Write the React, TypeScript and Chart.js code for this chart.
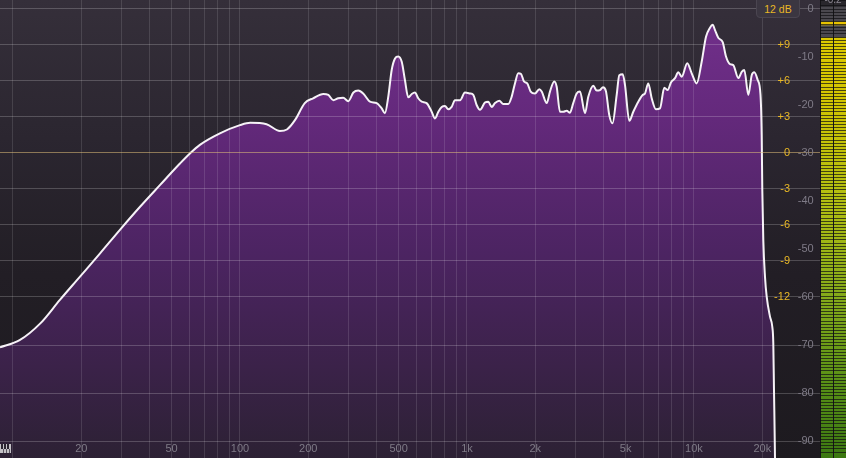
import React, { useEffect, useRef } from 'react';
import { Chart, registerables } from 'chart.js';

Chart.register(...registerables);

// ---- spectrum data (frequency in Hz, level in dB) ----
const FREQ_HZ = [
  8.77, 10.7, 13.2, 16.1, 19.7, 24.2, 29.6, 36.3, 44.4, 54.4, 60.2, 66.6, 81.6, 100, 111, 131, 150, 161, 175, 193,
  210, 233, 245, 258, 271, 285, 300, 316, 332, 349, 374, 400, 421, 435, 450, 466, 482, 498, 516, 533,
  551, 571, 590, 610, 632, 664, 699, 723, 748, 774, 800, 827, 856, 885, 932, 980, 1031, 1066, 1103, 1141,
  1200, 1241, 1285, 1329, 1388, 1445, 1520, 1573, 1627, 1683, 1729, 1783, 1843, 1908, 1993, 2082, 2134, 2245, 2321, 2424,
  2484, 2568, 2656, 2749, 2842, 2939, 3043, 3147, 3311, 3423, 3601, 3728, 3855, 3974, 4097, 4235, 4375, 4566, 4687, 4852,
  4966, 5188, 5403, 5684, 5943, 6083, 6290, 6512, 6801, 7083, 7399, 7658, 7918, 8249, 8528, 8828, 9343, 9770, 10278, 10812,
  11297, 11765, 12091, 12376, 12794, 13379, 13836, 14408, 14898, 15674, 16226, 16661, 17350, 17960, 18439, 19085, 19634, 19873, 19995, 20199,
  20550, 20907, 21618, 22128, 22353, 22513, 22742, 22800,
];
const LEVEL_DB = [
  -70.5, -69.0, -65.5, -60.6, -55.8, -50.9, -46.0, -41.2, -36.7, -32.2, -30.1, -28.3, -25.9, -24.2, -23.7, -24.0, -25.4, -25.1, -23.1, -19.6,
  -18.6, -17.7, -17.9, -19.0, -18.6, -18.5, -19.2, -17.4, -17.0, -17.6, -19.3, -19.6, -20.7, -21.7, -18.3, -12.7, -10.3, -9.9, -11.0, -14.8,
  -18.4, -17.7, -17.4, -18.6, -19.3, -19.6, -21.4, -22.8, -21.4, -20.4, -20.2, -20.9, -20.4, -19.0, -19.0, -17.4, -17.6, -17.9, -20.0, -21.0,
  -19.5, -19.3, -20.4, -19.6, -19.1, -19.8, -19.8, -18.3, -15.5, -13.4, -13.5, -15.1, -15.5, -17.2, -17.6, -16.7, -17.2, -19.6, -17.2, -15.1,
  -16.2, -21.4, -21.4, -21.2, -21.6, -19.6, -17.6, -17.2, -21.7, -18.3, -16.0, -17.0, -16.9, -16.3, -17.2, -22.1, -23.8, -17.9, -13.8, -13.6,
  -15.8, -23.3, -21.4, -19.3, -17.9, -17.6, -15.5, -18.6, -20.9, -20.7, -16.4, -16.9, -15.3, -14.4, -13.2, -14.1, -11.3, -13.4, -15.5, -11.0,
  -5.8, -3.9, -3.3, -4.4, -6.0, -6.9, -9.9, -11.5, -11.7, -14.4, -13.1, -12.7, -17.9, -13.8, -13.2, -14.8, -17.9, -26.3, -37.7, -48.1,
  -55.8, -59.9, -64.1, -66.2, -69.6, -79.4, -93.5, -100,
];

// ---- axes / ticks ----
const FREQ_GRID = [
  10, 20, 30, 40, 50, 60, 70, 80, 90,
  100, 200, 300, 400, 500, 600, 700, 800, 900,
  1000, 2000, 3000, 4000, 5000, 6000, 7000, 8000, 9000,
  10000, 20000,
];
const FREQ_LABELS: Record<number, string> = {
  20: '20', 50: '50', 100: '100', 200: '200', 500: '500',
  1000: '1k', 2000: '2k', 5000: '5k', 10000: '10k', 20000: '20k',
};
const SPEC_TICKS = [-90, -80, -70, -60, -50, -40, -30, -20, -10, 0];
const SPEC_GRID_ONLY = [-90, -80, -70];
const EQ_TICKS = [-12, -9, -6, -3, 0, 3, 6, 9, 12];
const EQ_LABELED = [-12, -9, -6, -3, 0, 3, 6, 9];

// ---- meter ----
const METER_CHANNELS = ['L', 'R'];
const METER_LEVEL_DB = [-6.0, -6.0];
const METER_PEAK_DB = [-3.0, -3.0];
const METER_READOUT = '-0.2';
const RANGE_LABEL = '12 dB';

// ---- scale ranges ----
const F_MIN = 8.77;
const F_MAX = 35900;
const SPEC_MIN = -93.54;
const SPEC_MAX = 1.875;
const EQ_MIN = -25.42;
const EQ_MAX = 12.75;
const METER_TOP = 0.4;
const SPEC_LABEL_AT_HZ = 33650;
const EQ_LABEL_AT_HZ = 26480;

const FONT = { family: "'Liberation Sans', Arial, sans-serif", size: 11 };
const GRAY = '#7f7b87';
const YELLOW = '#e9b825';

function vGrad(chart: any, stops: [number, string][]) {
  const { ctx, chartArea } = chart;
  if (!chartArea) return stops[0][1];
  const g = ctx.createLinearGradient(0, chartArea.top, 0, chartArea.bottom);
  stops.forEach(([o, c]) => g.addColorStop(o, c));
  return g;
}

function mainConfig(): any {
  return {
    type: 'line',
    data: {
      datasets: [
        {
          data: FREQ_HZ.map((f, i) => ({ x: f, y: LEVEL_DB[i] })),
          borderColor: '#f6f2f7',
          borderWidth: 2,
          pointRadius: 0,
          fill: 'start',
          cubicInterpolationMode: 'monotone',
          tension: 0.4,
          backgroundColor: (c: any) =>
            vGrad(c.chart, [
              [0, '#74318e'],
              [0.25, '#64297c'],
              [0.55, '#4c2462'],
              [0.8, '#3b2249'],
              [1, '#2c2134'],
            ]),
        },
      ],
    },
    options: {
      animation: false,
      responsive: false,
      maintainAspectRatio: false,
      events: [],
      layout: { padding: 0 },
      plugins: { legend: { display: false }, tooltip: { enabled: false } },
      scales: {
        x: {
          type: 'logarithmic',
          min: F_MIN,
          max: F_MAX,
          position: { y: -90 },
          afterBuildTicks: (s: any) => {
            s.ticks = FREQ_GRID.map((v) => ({ value: v }));
          },
          ticks: {
            autoSkip: false,
            maxRotation: 0,
            padding: 1.5,
            color: GRAY,
            font: FONT,
            z: 2,
            callback: (v: any) => FREQ_LABELS[v as number] ?? '',
          },
          grid: { color: 'rgba(255,255,255,0.12)', drawTicks: false, z: 1 },
          border: { display: false },
        },
        y: {
          type: 'linear',
          min: SPEC_MIN,
          max: SPEC_MAX,
          position: { x: SPEC_LABEL_AT_HZ },
          afterBuildTicks: (s: any) => {
            s.ticks = SPEC_TICKS.map((v) => ({ value: v }));
          },
          ticks: {
            padding: -8,
            color: GRAY,
            font: FONT,
            z: 2,
            callback: (v: any) => String(v),
          },
          grid: {
            drawTicks: false,
            z: 1,
            color: (c: any) =>
              SPEC_GRID_ONLY.includes(c.tick && c.tick.value) ? 'rgba(255,255,255,0.2)' : 'rgba(0,0,0,0)',
          },
          border: { display: false },
        },
        yEq: {
          axis: 'y',
          type: 'linear',
          min: EQ_MIN,
          max: EQ_MAX,
          position: { x: EQ_LABEL_AT_HZ },
          afterBuildTicks: (s: any) => {
            s.ticks = EQ_TICKS.map((v) => ({ value: v }));
          },
          ticks: {
            padding: -8,
            color: YELLOW,
            font: FONT,
            z: 2,
            callback: (v: any) => (EQ_LABELED.includes(v) ? (v > 0 ? '+' + v : String(v)) : ''),
          },
          grid: {
            drawTicks: false,
            z: 1,
            color: (c: any) =>
              c.tick && c.tick.value === 0 ? 'rgba(222,190,120,0.55)' : 'rgba(255,255,255,0.2)',
          },
          border: { display: false },
        },
      },
    },
  };
}

function meterConfig(): any {
  return {
    type: 'bar',
    data: {
      labels: METER_CHANNELS,
      datasets: [
        {
          data: METER_CHANNELS.map(() => [SPEC_MIN, METER_TOP]),
          backgroundColor: '#4a484e',
          order: 3,
        },
        {
          data: METER_LEVEL_DB.map((v) => [SPEC_MIN, v]),
          backgroundColor: (c: any) =>
            vGrad(c.chart, [
              [0, '#e2cc00'],
              [0.2, '#d4c600'],
              [0.45, '#b0be12'],
              [0.65, '#84aa1a'],
              [0.85, '#568e16'],
              [1, '#3c7812'],
            ]),
          order: 2,
        },
        {
          data: METER_PEAK_DB.map((v) => [v - 0.32, v + 0.32]),
          backgroundColor: '#e8c200',
          order: 1,
        },
      ],
    },
    options: {
      animation: false,
      responsive: false,
      maintainAspectRatio: false,
      events: [],
      layout: { padding: 0 },
      datasets: { bar: { grouped: false, barPercentage: 1, categoryPercentage: 1, borderWidth: 0 } },
      plugins: { legend: { display: false }, tooltip: { enabled: false } },
      scales: {
        x: {
          grid: { offset: true, color: '#151417', z: 1, drawTicks: false },
          ticks: { display: false },
          border: { display: false },
        },
        y: {
          min: SPEC_MIN,
          max: SPEC_MAX,
          ticks: { display: false, stepSize: 0.65 },
          grid: { color: 'rgba(16,16,18,0.7)', z: 1, drawTicks: false },
          border: { display: false },
        },
      },
    },
  };
}

export default function App() {
  const mainRef = useRef<HTMLCanvasElement>(null);
  const meterRef = useRef<HTMLCanvasElement>(null);

  useEffect(() => {
    const c1 = new Chart(mainRef.current as HTMLCanvasElement, mainConfig());
    const c2 = new Chart(meterRef.current as HTMLCanvasElement, meterConfig());
    return () => {
      c1.destroy();
      c2.destroy();
    };
  }, []);

  const font = "'Liberation Sans', Arial, sans-serif";

  return (
    <div
      style={{
        position: 'fixed',
        left: 0,
        top: 0,
        width: 846,
        height: 458,
        overflow: 'hidden',
        background: '#1d1a1f',
        fontFamily: font,
      }}
    >
      <div
        style={{
          position: 'absolute',
          left: 0,
          top: 0,
          width: 820,
          height: 458,
          background: 'linear-gradient(to bottom, #352f3a 0%, #2b2630 30%, #221e25 60%, #1d1a1f 100%)',
        }}
      >
        <canvas ref={mainRef} width={820} height={458} style={{ display: 'block', width: 820, height: 458 }} />
      </div>
      <div style={{ position: 'absolute', left: 820, top: 0, width: 26, height: 458, background: '#29272c' }}>
        <canvas ref={meterRef} width={26} height={458} style={{ display: 'block', width: 26, height: 458 }} />
      </div>
      <div
        style={{
          position: 'absolute',
          left: 820,
          top: -7,
          width: 26,
          textAlign: 'center',
          fontSize: 10,
          lineHeight: '13px',
          color: '#8a8690',
        }}
      >
        {METER_READOUT}
      </div>
      <div
        style={{
          position: 'absolute',
          left: 756,
          top: -4,
          width: 44,
          height: 22,
          boxSizing: 'border-box',
          borderRadius: 4,
          background: '#3b3641',
          border: '1px solid #4a4550',
          color: YELLOW,
          fontSize: 10.5,
          lineHeight: '18px',
          paddingTop: 3,
          textAlign: 'center',
        }}
      >
        {RANGE_LABEL}
      </div>
      <div
        style={{
          position: 'absolute',
          left: 0,
          top: 444,
          width: 11,
          height: 9,
          background: '#c4c2c6',
        }}
      >
        {[1, 4, 7].map((x) => (
          <div key={x} style={{ position: 'absolute', left: x, top: 0, width: 2, height: 5, background: '#2a2530' }} />
        ))}
        {[3, 6, 9].map((x) => (
          <div key={'l' + x} style={{ position: 'absolute', left: x, top: 5, width: 1, height: 4, background: '#5a5560' }} />
        ))}
      </div>
    </div>
  );
}
